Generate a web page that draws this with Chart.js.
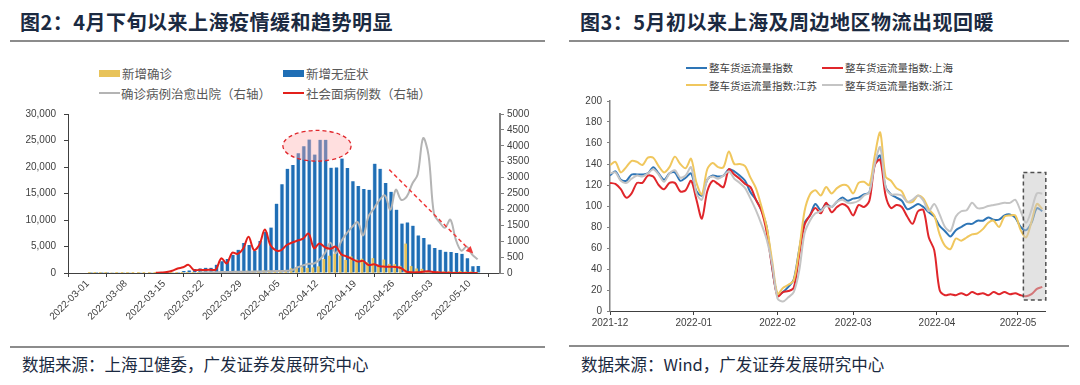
<!DOCTYPE html>
<html>
<head>
<meta charset="utf-8">
<script src="https://cdn.jsdelivr.net/npm/chart.js@4.4.0/dist/chart.umd.min.js"></script>
<style>
  body { margin: 0; width: 1080px; height: 385px; background: #fff; position: relative; overflow: hidden;
         font-family: "Noto Sans CJK SC", "Noto Sans", sans-serif; }
  .title { position: absolute; top: 12px; font-size: 20px; line-height: 20px; font-weight: bold; color: #1b2a41;
           letter-spacing: 0.5px; white-space: nowrap; }
  .rule  { position: absolute; height: 2px; background: #8c8c8c; }
  .src   { position: absolute; top: 356px; font-size: 16.5px; line-height: 17px; color: #1b2a41; white-space: nowrap; }
  .lg    { position: absolute; white-space: nowrap; color: #595959; }
  .lg.l  { font-size: 12.5px; line-height: 13px; }
  .lg.r  { font-size: 10.5px; line-height: 11px; color: #404040; }
  .sw    { position: absolute; }
  canvas { position: absolute; }
</style>
</head>
<body>

<!-- 左图 -->
<div class="title" style="left:20px">图2：4月下旬以来上海疫情缓和趋势明显</div>
<div class="rule" style="left:10px; width:535px; top:40px"></div>

<div class="sw" style="left:99px; top:70px; width:21px; height:7px; background:#e8c35a"></div>
<div class="lg l" style="left:122px; top:67px">新增确诊</div>
<div class="sw" style="left:283px; top:70px; width:21px; height:7px; background:#1f6eb5"></div>
<div class="lg l" style="left:306px; top:67px">新增无症状</div>
<div class="sw" style="left:99px; top:92px; width:21px; height:1.5px; background:#b4b4b4"></div>
<div class="lg l" style="left:121px; top:86.5px">确诊病例治愈出院（右轴）</div>
<div class="sw" style="left:283px; top:92px; width:21px; height:2px; background:#e3201b"></div>
<div class="lg l" style="left:306px; top:86.5px">社会面病例数（右轴）</div>

<canvas id="covid" width="545" height="245" style="left:0; top:100px"></canvas>

<div class="rule" style="left:10px; width:535px; top:346px"></div>
<div class="src" style="left:22px">数据来源：上海卫健委，广发证券发展研究中心</div>

<!-- 右图 -->
<div class="title" style="left:580px">图3：5月初以来上海及周边地区物流出现回暖</div>
<div class="rule" style="left:569px; width:500px; top:40px"></div>

<div class="sw" style="left:686px; top:66.5px; width:21px; height:2px; background:#2e75b6"></div>
<div class="lg r" style="left:709px; top:62px">整车货运流量指数</div>
<div class="sw" style="left:822px; top:66.5px; width:21px; height:2px; background:#e0262b"></div>
<div class="lg r" style="left:845px; top:62px">整车货运流量指数:上海</div>
<div class="sw" style="left:686px; top:84px; width:21px; height:2px; background:#f0c75e"></div>
<div class="lg r" style="left:709px; top:79.5px">整车货运流量指数:江苏</div>
<div class="sw" style="left:822px; top:84px; width:21px; height:2px; background:#c4c4c4"></div>
<div class="lg r" style="left:845px; top:79.5px">整车货运流量指数:浙江</div>

<canvas id="freight" width="500" height="250" style="left:555px; top:90px"></canvas>

<div class="rule" style="left:569px; width:500px; top:345px"></div>
<div class="src" style="left:581px">数据来源：Wind，广发证券发展研究中心</div>

<script>
/* ── 图2：上海疫情（2022-03-01 至 2022-05-11，逐日） ── */
const covidDates = [
  '03-01','03-02','03-03','03-04','03-05','03-06','03-07','03-08','03-09','03-10',
  '03-11','03-12','03-13','03-14','03-15','03-16','03-17','03-18','03-19','03-20',
  '03-21','03-22','03-23','03-24','03-25','03-26','03-27','03-28','03-29','03-30','03-31',
  '04-01','04-02','04-03','04-04','04-05','04-06','04-07','04-08','04-09','04-10',
  '04-11','04-12','04-13','04-14','04-15','04-16','04-17','04-18','04-19','04-20',
  '04-21','04-22','04-23','04-24','04-25','04-26','04-27','04-28','04-29','04-30',
  '05-01','05-02','05-03','05-04','05-05','05-06','05-07','05-08','05-09','05-10','05-11'
];
const covidConfirmed = [
  1,3,2,3,0,3,4,3,4,11,
  5,1,41,9,5,8,57,8,17,24,
  31,4,4,29,38,45,50,96,326,355,358,
  260,438,425,268,311,322,824,1015,1006,914,
  994,1189,2573,3200,3590,3238,2417,3084,2494,2634,
  1931,2736,1401,2472,1661,1606,1292,5487,1249,788,
  727,274,260,261,245,253,215,322,234,228,144
];
const covidAsymptomatic = [
  1,5,14,16,28,45,51,62,76,64,
  78,64,128,130,197,150,203,366,492,734,
  865,977,979,1580,2231,2631,3450,4381,5656,5298,4144,
  6051,7788,8581,13086,16766,19660,20398,22609,23937,25173,
  22348,25141,25146,19872,19923,21582,19831,17332,16407,15861,
  15698,20634,19657,16983,15319,11956,9330,9545,8932,7084,
  6606,5395,4722,4390,4024,3961,3760,3625,2780,1259,1305
];
const covidDischarged = [
  null,null,null,null,null,null,null,null,null,null,
  null,null,null,null,null,null,null,null,null,null,
  20,20,25,25,30,30,35,40,40,40,
  45,50,50,55,60,60,70,90,180,240,
  290,300,420,620,950,620,1000,1250,1450,1600,
  1180,1780,2030,2290,2440,1990,2620,2300,2400,2800,
  3100,4240,3700,1850,1600,1420,1680,1050,700,830,
  580,430
];
const covidCommunity = [
  null,null,null,null,null,null,null,null,null,null,null,null,
  5,15,30,70,140,180,255,90,100,95,
  100,110,460,300,640,600,760,1140,720,900,
  1370,880,710,720,880,960,1020,1080,1240,780,
  930,810,760,830,590,520,440,360,380,250,
  275,215,200,195,190,150,40,20,25,40,
  55,30,15,5,5,0,0,0,0,0
];
const covidTickDays   = [0, 7, 14, 21, 28, 35, 42, 49, 56, 63, 70];
const covidTickLabels = ['2022-03-01','2022-03-08','2022-03-15','2022-03-22','2022-03-29','2022-04-05',
                         '2022-04-12','2022-04-19','2022-04-26','2022-05-03','2022-05-10'];

/* 标注（数据单位）：峰值椭圆、回落箭头 */
const peakZone   = { from: 35.8, to: 48.3, low: 21100, high: 26900 };
const trendArrow = { d0: 55.3, v0: 3250, d1: 70.7, v1: 610 };

/* ── 图3：整车货运流量指数（2021-12-01 起，每 2 日取值） ── */
const freightDays = [
    0,  2,  4,  6,  8, 10, 12, 14, 16, 18, 20, 22, 24, 26, 28, 30, 32, 34, 36, 38,
   40, 42, 44, 46, 48, 50, 52, 54, 56, 58, 60, 62, 64, 66, 68, 70, 72, 74, 76, 78,
   80, 82, 84, 86, 88, 90, 92, 94, 96, 98,100,102,104,106,108,110,112,114,116,118,
  120,122,124,126,128,130,132,134,136,138,140,142,144,146,148,150,152,154,156,158,160
];
const freightNational = [
  129,133,125,124,130,130,130,131,137,131, 125,131,132,124,127,131,114,110,125,129,
  128,129,135,133,129,124,113,106, 96, 80,  42, 15, 18, 23, 30, 58, 84, 91,102, 96,
  102, 99,104,108,105,107,108,111,113,140, 148,118,111,108,105, 97, 99,102, 99, 94,
   90, 81, 76, 71, 77, 80, 83, 83, 86, 86,  89, 87, 87, 91, 92, 89, 80, 77, 84, 98, 95
];
const freightShanghai = [
  122,121,116,108,112,122,122,129,128,120, 116,122,122,114,115,124,106, 88,114,124,
  121,118,135,130,126,121,118,106, 96, 75,  42, 14, 18, 19, 22, 53, 82, 91, 98, 93,
  103, 94, 99,102, 99, 91,101, 99,105,139, 144,110, 98,101, 99, 90, 83, 95, 96, 70,
   58, 20, 15, 16, 15, 17, 15, 18, 16, 17,  15, 18, 16, 18, 16, 17, 15, 14, 16, 21, 23
];
const freightJiangsu = [
  139,142,132,137,143,142,139,146,146,138, 132,137,147,140,136,145,122,111,135,141,
  137,137,152,140,140,138,127,117,100, 80,  48, 16, 22, 25, 29, 58, 95,111,115,110,
  118,112,117,120,119,112,122,123,120,148, 170,128,124,117,114,104,104,110,107, 97,
   91, 73, 62, 59, 69, 67, 70, 73, 74, 78,  84, 86, 80, 90, 91, 91, 77, 70, 85,102, 97
];
const freightZhejiang = [
  131,132,124,122,126,129,128,131,135,130, 123,131,134,127,129,137,112,106,125,128,
  126,129,133,126,122,117,107, 96, 83, 68,  45, 12,  9, 13, 18, 38, 74, 86, 93, 95,
  100, 99,104,106,103,103,105,110,113,140, 156,118,111,111,110,104,106,110,105, 95,
  102, 92, 80, 76, 90, 95, 96,103, 98, 98, 100,101,102,103,103,106, 95, 84, 96,112,112
];
const freightTickDays   = [0, 31, 62, 90, 121, 151];
const freightTickLabels = ['2021-12','2022-01','2022-02','2022-03','2022-04','2022-05'];

/* 灰色虚线框（数据单位） */
const recentBox = { from: 153, to: 161.3, low: 10.5, high: 132 };

const tickFont = { family: "'Liberation Sans', Arial, sans-serif", size: 10 };

function dayPoints(values, offset) {
  return values.map((v, i) => ({ x: i + offset, y: v }));
}

function linePoints(days, values) {
  return values.map((v, i) => ({ x: days[i], y: v }));
}

/* ─────────────────────────────────────────
   左图装饰：椭圆 + 虚线箭头
───────────────────────────────────────── */
const covidDecor = {
  id: 'covidDecor',
  afterDatasetsDraw(chart) {
    const { ctx, scales: { x, y, y1 } } = chart;
    const x0 = x.getPixelForValue(peakZone.from), x1 = x.getPixelForValue(peakZone.to);
    const yt = y.getPixelForValue(peakZone.high), yb = y.getPixelForValue(peakZone.low);
    ctx.save();
    ctx.beginPath();
    ctx.ellipse((x0 + x1) / 2, (yt + yb) / 2, (x1 - x0) / 2, (yb - yt) / 2, 0, 0, Math.PI * 2);
    ctx.fillStyle = 'rgba(255,170,170,0.38)';
    ctx.fill();
    ctx.setLineDash([4, 3]);
    ctx.lineWidth = 1.3;
    ctx.strokeStyle = '#e0262b';
    ctx.stroke();

    const ax = x.getPixelForValue(trendArrow.d0), ay = y1.getPixelForValue(trendArrow.v0);
    const bx = x.getPixelForValue(trendArrow.d1), by = y1.getPixelForValue(trendArrow.v1);
    const ang = Math.atan2(by - ay, bx - ax);
    const head = 8;
    ctx.beginPath();
    ctx.moveTo(ax, ay);
    ctx.lineTo(bx - head * Math.cos(ang), by - head * Math.sin(ang));
    ctx.lineWidth = 1.5;
    ctx.strokeStyle = '#f03a3a';
    ctx.stroke();
    ctx.setLineDash([]);
    ctx.beginPath();
    ctx.moveTo(bx, by);
    ctx.lineTo(bx - head * Math.cos(ang - 0.45), by - head * Math.sin(ang - 0.45));
    ctx.lineTo(bx - head * Math.cos(ang + 0.45), by - head * Math.sin(ang + 0.45));
    ctx.closePath();
    ctx.fillStyle = '#f03a3a';
    ctx.fill();
    ctx.restore();
  }
};

/* ─────────────────────────────────────────
   右图装饰：半透明灰框
───────────────────────────────────────── */
const freightBox = {
  id: 'freightBox',
  afterDatasetsDraw(chart) {
    const { ctx, scales: { x, y } } = chart;
    const x0 = x.getPixelForValue(recentBox.from), x1 = x.getPixelForValue(recentBox.to);
    const y0 = y.getPixelForValue(recentBox.high), y1 = y.getPixelForValue(recentBox.low);
    ctx.save();
    ctx.fillStyle = 'rgba(200,200,200,0.5)';
    ctx.fillRect(x0, y0, x1 - x0, y1 - y0);
    ctx.setLineDash([4, 3]);
    ctx.lineWidth = 1.5;
    ctx.strokeStyle = '#505050';
    ctx.strokeRect(x0, y0, x1 - x0, y1 - y0);
    ctx.restore();
  }
};

new Chart(document.getElementById('covid'), {
  data: {
    datasets: [
      { type: 'line', label: '社会面病例数（右轴）', data: dayPoints(covidCommunity, 0.5), yAxisID: 'y1',
        borderColor: '#e3201b', borderWidth: 2, pointRadius: 0, tension: 0.35, order: 0 },
      { type: 'line', label: '确诊病例治愈出院（右轴）', data: dayPoints(covidDischarged, 0.5), yAxisID: 'y1',
        borderColor: '#b4b4b4', borderWidth: 2, pointRadius: 0, tension: 0.35, order: 1 },
      { type: 'bar', label: '新增确诊', data: dayPoints(covidConfirmed, 0.3), yAxisID: 'y',
        backgroundColor: '#e8c35a', barThickness: 2, grouped: false, order: 2 },
      { type: 'bar', label: '新增无症状', data: dayPoints(covidAsymptomatic, 0.63), yAxisID: 'y',
        backgroundColor: '#1f6eb5', borderColor: '#c4dbf0', borderWidth: { left: 0.8, right: 0.8 },
        barThickness: 4, grouped: false, order: 3 }
    ]
  },
  options: {
    responsive: false,
    animation: false,
    devicePixelRatio: 1,
    layout: { padding: { top: 10, left: 0, right: 0, bottom: 0 } },
    plugins: { legend: { display: false }, tooltip: { enabled: false } },
    scales: {
      x: {
        type: 'linear', min: 0, max: 72,
        afterBuildTicks: s => { s.ticks = covidTickDays.map(v => ({ value: v })); },
        afterFit: s => { s.height = 72; },
        ticks: { autoSkip: false, minRotation: 45, maxRotation: 45, padding: 1,
                 color: '#404040', font: tickFont,
                 callback: (v, i) => covidTickLabels[i] },
        grid: { drawOnChartArea: false, tickLength: 4, color: '#404040' },
        border: { color: '#404040', width: 1 }
      },
      y: {
        position: 'left', min: 0, max: 30000,
        afterFit: s => { s.width = 68; },
        ticks: { stepSize: 5000, padding: 8, color: '#404040', font: tickFont,
                 callback: v => v.toLocaleString('en-US') },
        grid: { drawOnChartArea: false, tickLength: 4, color: '#404040' },
        border: { color: '#404040', width: 1 }
      },
      y1: {
        position: 'right', min: 0, max: 5000,
        afterFit: s => { s.width = 45; },
        ticks: { stepSize: 500, padding: 3, color: '#404040', font: tickFont,
                 callback: v => String(v) },
        grid: { drawOnChartArea: false, tickLength: 4, color: '#808080' },
        border: { color: '#808080', width: 2 }
      }
    }
  },
  plugins: [covidDecor]
});

new Chart(document.getElementById('freight'), {
  type: 'line',
  data: {
    datasets: [
      { label: '整车货运流量指数:浙江', data: linePoints(freightDays, freightZhejiang), borderColor: '#c4c4c4', order: 1 },
      { label: '整车货运流量指数:江苏', data: linePoints(freightDays, freightJiangsu),  borderColor: '#f0c75e', order: 2 },
      { label: '整车货运流量指数:上海', data: linePoints(freightDays, freightShanghai), borderColor: '#e0262b', order: 3 },
      { label: '整车货运流量指数',      data: linePoints(freightDays, freightNational), borderColor: '#2e75b6', order: 4 }
    ]
  },
  options: {
    responsive: false,
    animation: false,
    devicePixelRatio: 1,
    layout: { padding: { top: 11, left: 0, right: 10, bottom: 0 } },
    elements: { line: { borderWidth: 2, tension: 0.3 }, point: { radius: 0 } },
    plugins: { legend: { display: false }, tooltip: { enabled: false } },
    scales: {
      x: {
        type: 'linear', min: 0, max: 161,
        afterBuildTicks: s => { s.ticks = freightTickDays.map(v => ({ value: v })); },
        afterFit: s => { s.height = 29; },
        ticks: { autoSkip: false, maxRotation: 0, padding: 2, color: '#404040', font: tickFont,
                 callback: (v, i) => freightTickLabels[i] },
        grid: { drawOnChartArea: false, tickLength: 4, color: '#404040' },
        border: { color: '#404040', width: 1 }
      },
      y: {
        min: 0, max: 200,
        afterFit: s => { s.width = 55; },
        ticks: { stepSize: 20, padding: 5, color: '#404040', font: tickFont },
        grid: { drawOnChartArea: false, tickLength: 3, color: '#808080' },
        border: { color: '#808080', width: 1.5 }
      }
    }
  },
  plugins: [freightBox]
});
</script>
</body>
</html>
